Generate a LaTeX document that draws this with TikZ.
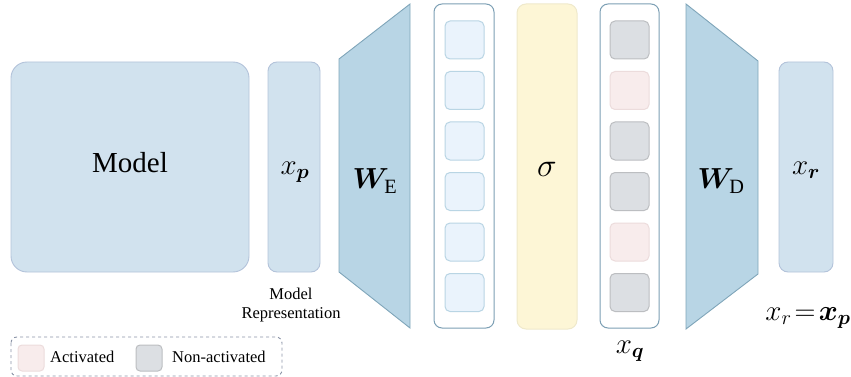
\RequirePackage{fix-cm}
\documentclass[tikz,border=0pt]{standalone}
\usepackage{bm}
\usepackage{amsmath}
\usepackage{fontspec}
\setmainfont{Liberation Serif}
\begin{document}
\begin{tikzpicture}[x=1pt,y=-1pt,
  blk/.style={draw=frameC, fill=blkC, line width=0.9pt, rounded corners=#1},
  blk/.default=8pt,
  trap/.style={draw=trapB, fill=trapC, line width=0.9pt},
  col/.style={draw=colB, fill=white, line width=1pt, rounded corners=8pt},
  cell/.style={draw=cellB, fill=cellC, line width=1pt, rounded corners=5pt},
  gcell/.style={draw=grayB, fill=grayC, line width=1pt, rounded corners=5pt},
  pcell/.style={draw=pinkB, fill=pinkC, line width=1pt, rounded corners=5pt},
  lbl/.style={inner sep=0pt, font=\fontsize{29}{32}\selectfont},
  small/.style={inner sep=0pt, font=\fontsize{16.5}{19}\selectfont}
]
\definecolor{blkC}{HTML}{D1E2EE}
\definecolor{frameC}{HTML}{B3C3DA}
\definecolor{trapC}{HTML}{B8D5E5}
\definecolor{trapB}{HTML}{7FA5B9}
\definecolor{colB}{HTML}{7C9FB4}
\definecolor{cellC}{HTML}{EAF3FC}
\definecolor{cellB}{HTML}{B9D5E4}
\definecolor{grayC}{HTML}{DCDFE3}
\definecolor{grayB}{HTML}{BCBEC1}
\definecolor{pinkC}{HTML}{F8ECEC}
\definecolor{pinkB}{HTML}{ECDCDC}
\definecolor{sigC}{HTML}{FDF6D6}
\definecolor{sigB}{HTML}{EFE9CB}
\definecolor{legB}{HTML}{8A93A6}
\useasboundingbox (0,0) rectangle (851,377);

% Model
\draw[blk=16pt] (11,62) rectangle (249,272);
\node[inner sep=0pt, font=\fontsize{29}{31}\selectfont] (model) at (130,163) {Model};
% x_p
\draw[blk=9pt] (268,62) rectangle (320,272);
\node[lbl] (xp) at (295,172) {$x_{\bm p}$};
\node[small, align=center] (mrep) at (291,305) {Model\\Representation};
% W_E
\draw[trap] (339,59) -- (410,4) -- (410,328) -- (339,272) -- cycle;
\node[lbl] (we) at (375,181) {$\bm W_{\mathrm{E}}$};
% hidden column
\draw[col] (434,4) rectangle (494,328);
\foreach \i in {0,...,5}{
  \draw[cell] (445,{21+50.5*\i}) rectangle (484,{59+50.5*\i});
}
% sigma
\draw[draw=sigB, fill=sigC, line width=1pt, rounded corners=9pt] (517,4) rectangle (577,329);
\node[inner sep=0pt, font=\fontsize{33}{36}\selectfont] (sig) at (547,169) {$\sigma$};
% x_q column
\draw[col] (600,4) rectangle (659,328);
\draw[gcell] (610,21) rectangle (649,59);
\draw[pcell] (610,71.5) rectangle (649,109.5);
\draw[gcell] (610,122) rectangle (649,160);
\draw[gcell] (610,172.5) rectangle (649,210.5);
\draw[pcell] (610,223) rectangle (649,261);
\draw[gcell] (610,273.5) rectangle (649,311.5);
\node[lbl] (xq) at (630,351) {$x_{\bm q}$};
% W_D
\draw[trap] (686,4) -- (758,61) -- (758,274) -- (686,329) -- cycle;
\node[lbl] (wd) at (721,181) {$\bm W_{\mathrm{D}}$};
% x_r
\draw[blk=9pt] (779,62) rectangle (833,272);
\node[lbl] (xr) at (806,170) {$x_{\bm r}$};
\node[lbl] (eq) at (808,318) {$x_r\!=\!\bm x_{\bm p}$};
% legend
\draw[draw=legB, dashed, line width=0.9pt, rounded corners=6pt] (11,337) rectangle (282,376);
\draw[pcell, rounded corners=4pt] (18,345) rectangle (44,371);
\node[small, anchor=west] (la) at (50,357) {Activated};
\draw[gcell, rounded corners=4pt] (136,345) rectangle (162,371);
\node[small, anchor=west] (ln) at (172,357) {Non-activated};
\end{tikzpicture}
\end{document}
